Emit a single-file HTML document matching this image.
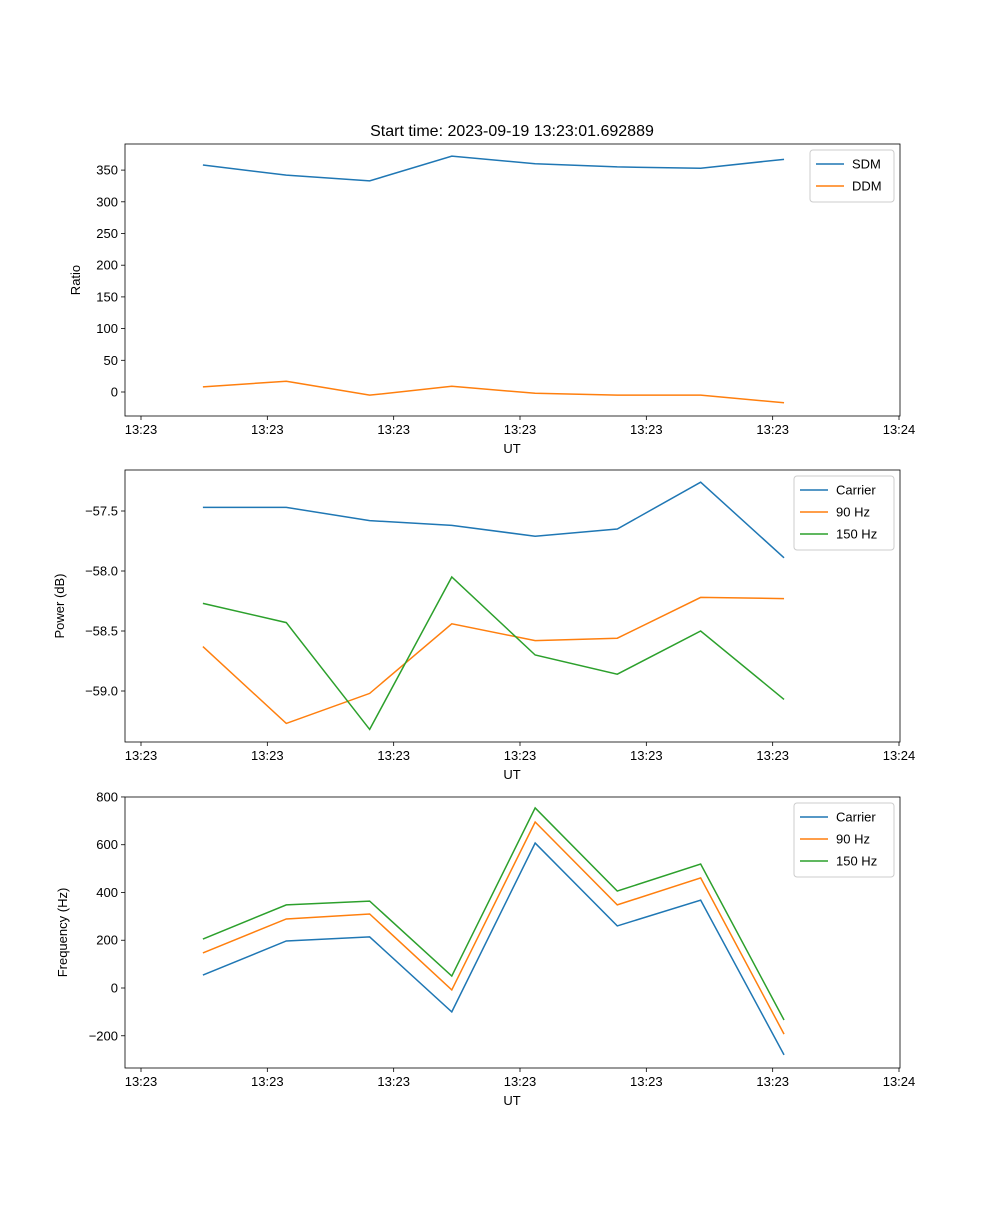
<!DOCTYPE html>
<html><head><meta charset="utf-8"><style>
body{margin:0;background:#fff}
text{font-family:"Liberation Sans","DejaVu Sans",sans-serif;fill:#000}
</style></head><body>
<svg id="fig" width="1000" height="1200" xmlns="http://www.w3.org/2000/svg">
<rect width="1000" height="1200" fill="#fff"/>
<text x="512" y="136" font-size="16" text-anchor="middle">Start time: 2023-09-19 13:23:01.692889</text>
</svg>
<script>
// x positions as seconds after 13:23:00
const times=[4.9,11.5,18.1,24.6,31.2,37.7,44.3,50.9];
const xTickVals=[0,10,20,30,40,50,60];
const xTickLabels=["13:23","13:23","13:23","13:23","13:23","13:23","13:24"];
const sdm=[358,342,333,372,360,355,353,367];
const ddm=[8,17,-5,9,-2,-5,-5,-17];
const pCarrier=[-57.47,-57.47,-57.58,-57.62,-57.71,-57.65,-57.26,-57.89];
const p90=[-58.63,-59.27,-59.02,-58.44,-58.58,-58.56,-58.22,-58.23];
const p150=[-58.27,-58.43,-59.32,-58.05,-58.70,-58.86,-58.50,-59.07];
const fCarrier=[54,197,214,-100,607,260,368,-280];
const f90=[147,289,310,-8,695,348,461,-193];
const f150=[205,348,364,50,754,406,519,-134];
const ticks1=[0,50,100,150,200,250,300,350];
const ticks1Labels=["0","50","100","150","200","250","300","350"];
const ticks2=[-59.0,-58.5,-58.0,-57.5];
const ticks2Labels=["\u221259.0","\u221258.5","\u221258.0","\u221257.5"];
const ticks3=[-200,0,200,400,600,800];
const ticks3Labels=["\u2212200","0","200","400","600","800"];

const NS="http://www.w3.org/2000/svg";
const svg=document.getElementById('fig');
const L=125,R=900;
const xs=v=>141+(v-0)*(899-141)/60;
function mk(tag,attrs,parent){const e=document.createElementNS(NS,tag);for(const k in attrs)e.setAttribute(k,attrs[k]);(parent||svg).appendChild(e);return e;}
const colors=["#1f77b4","#ff7f0e","#2ca02c"];
function panel(name,top,bot,ys,yt,ytl,ylabel,series,names,legend){
  const g=mk('g',{});
  
  
  series.forEach((s,i)=>{
    const p=mk('polyline',{points:s.map((v,j)=>xs(times[j])+','+ys(v)).join(' '),fill:'none',stroke:colors[i],'stroke-width':1.5},g);
    
    
  });
  const ax=mk('rect',{x:L,y:top,width:R-L,height:bot-top,fill:'none',stroke:'#000','stroke-width':0.8},g);
  
  
  xTickVals.forEach((v,i)=>{
    mk('line',{x1:xs(v),x2:xs(v),y1:bot,y2:bot+4,stroke:'#000','stroke-width':0.8},g);
    const t=mk('text',{x:xs(v),y:bot+18,'font-size':13,'text-anchor':'middle'},g);t.textContent=xTickLabels[i];
    
    
  });
  yt.forEach((v,i)=>{
    mk('line',{x1:L-4,x2:L,y1:ys(v),y2:ys(v),stroke:'#000','stroke-width':0.8},g);
    const t=mk('text',{x:L-7,y:ys(v)+4.5,'font-size':13,'text-anchor':'end'},g);t.textContent=ytl[i];
    
    
  });
  const xl=mk('text',{x:512,y:bot+37,'font-size':13,'text-anchor':'middle'},g);xl.textContent='UT';
  
  
  const yc=(top+bot)/2;
  const yl=mk('text',{x:legend.yx,y:yc,'font-size':13,'text-anchor':'middle',transform:`rotate(-90 ${legend.yx} ${yc})`},g);yl.textContent=ylabel;
  
  
  const lg=mk('g',{},g);
  
  
  mk('rect',{x:legend.x,y:top+6,width:R-6-legend.x,height:8+names.length*22,fill:'#fff',stroke:'#ccc',rx:3},lg);
  names.forEach((n,i)=>{
    const yy=top+20+i*22;
    mk('line',{x1:legend.x+6,x2:legend.x+34,y1:yy,y2:yy,stroke:colors[i],'stroke-width':1.5},lg);
    const t=mk('text',{x:legend.x+42,y:yy+4.5,'font-size':13},lg);t.textContent=n;
    
    
  });
}
panel('ratio',144,416,v=>392-v*0.634,ticks1,ticks1Labels,'Ratio',[sdm,ddm],['SDM','DDM'],{x:810,yx:80});
panel('power',470,742,v=>511-(v+57.5)*120,ticks2,ticks2Labels,'Power (dB)',[pCarrier,p90,p150],['Carrier','90 Hz','150 Hz'],{x:794,yx:64});
panel('frequency',797,1068,v=>988-v*0.2388,ticks3,ticks3Labels,'Frequency (Hz)',[fCarrier,f90,f150],['Carrier','90 Hz','150 Hz'],{x:794,yx:67});
</script>
</body></html>
